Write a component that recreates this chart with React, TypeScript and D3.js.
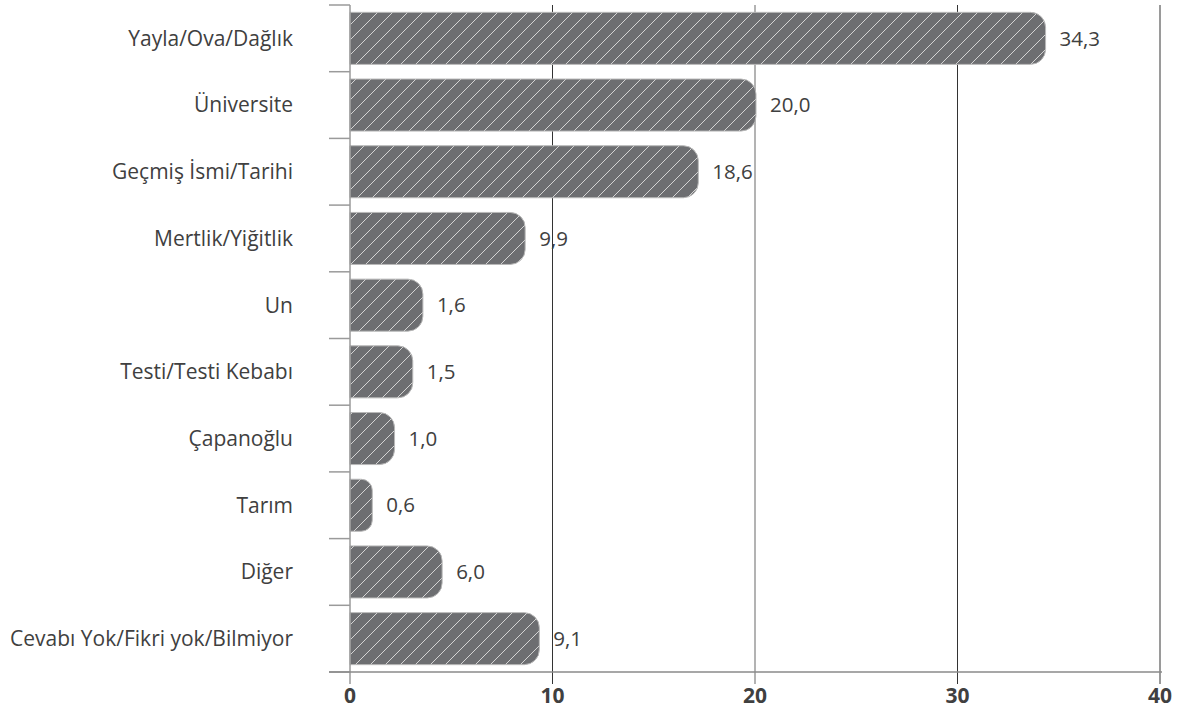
import React from 'react';
import * as d3 from 'd3';

// categories, top to bottom
const categories = [
  'Yayla/Ova/Dağlık',
  'Üniversite',
  'Geçmiş İsmi/Tarihi',
  'Mertlik/Yiğitlik',
  'Un',
  'Testi/Testi Kebabı',
  'Çapanoğlu',
  'Tarım',
  'Diğer',
  'Cevabı Yok/Fikri yok/Bilmiyor',
];

// printed values
const values = [34.3, 20.0, 18.6, 9.9, 1.6, 1.5, 1.0, 0.6, 6.0, 9.1];

// bar lengths as drawn in the picture (they don't always follow the printed value)
const barLengths = [34.35, 20.05, 17.2, 8.65, 3.6, 3.1, 2.2, 1.1, 4.55, 9.35];

const xTicks = [0, 10, 20, 30, 40];

const W = 1183;
const H = 709;
const margin = { top: 5, right: 23, bottom: 37, left: 350 };

const fmt = (v: number) => v.toFixed(1).replace('.', ',');

const App: React.FC = () => {
  const x = d3.scaleLinear().domain([0, 40]).range([margin.left, W - margin.right]);
  const y = d3
    .scaleBand<string>()
    .domain(categories)
    .range([margin.top, H - margin.bottom])
    .paddingInner(0.22)
    .paddingOuter(0.11);

  const step = y.step();
  const axisY = H - margin.bottom;
  const r = 15;

  // bar shape: square on the left, rounded on the right
  const barPath = (len: number, y0: number, h: number) => {
    const x0 = x(0);
    const x1 = x(len);
    const rr = Math.min(r, (x1 - x0) / 2, h / 2);
    const p = d3.path();
    p.moveTo(x0, y0);
    p.lineTo(x1 - rr, y0);
    p.arcTo(x1, y0, x1, y0 + rr, rr);
    p.lineTo(x1, y0 + h - rr);
    p.arcTo(x1, y0 + h, x1 - rr, y0 + h, rr);
    p.lineTo(x0, y0 + h);
    p.closePath();
    return p.toString();
  };

  const font = "'Open Sans', 'DejaVu Sans', sans-serif";

  return (
    <svg
      width={W}
      height={H}
      style={{ position: 'absolute', left: 0, top: 0, background: '#fff' }}
      fontFamily={font}
    >
      <defs>
        <pattern id="hatch" patternUnits="userSpaceOnUse" width={15} height={15}>
          <rect width={15} height={15} fill="#6d6e71" />
          <path
            d="M0,15 L15,0 M-3.75,3.75 L3.75,-3.75 M11.25,18.75 L18.75,11.25"
            stroke="#d4d4d4"
            strokeWidth={1}
          />
        </pattern>
      </defs>

      {/* gridlines */}
      {xTicks.slice(1).map((t) => {
        const gray = t === 20 || t === 40;
        return (
          <line
            key={t}
            x1={x(t)}
            x2={x(t)}
            y1={margin.top}
            y2={axisY + 12}
            stroke={gray ? '#9a9a9a' : '#333'}
            strokeWidth={t === 40 ? 2 : gray ? 1.5 : 1}
          />
        );
      })}

      {/* bars */}
      {categories.map((c, i) => (
        <path
          key={c}
          d={barPath(barLengths[i], y(c)!, y.bandwidth())}
          fill="url(#hatch)"
          stroke="#b8b8b8"
          strokeWidth={1}
        />
      ))}

      {/* value labels */}
      {categories.map((c, i) => (
        <text
          key={c}
          x={x(barLengths[i]) + 14}
          y={y(c)! + y.bandwidth() / 2}
          dy="0.35em"
          fontSize={20.5}
          fill="#404040"
        >
          {fmt(values[i])}
        </text>
      ))}

      {/* left axis line and ticks */}
      <line x1={x(0)} x2={x(0)} y1={margin.top} y2={axisY + 12} stroke="#9a9a9a" strokeWidth={1.5} />
      {d3.range(categories.length + 1).map((k) => (
        <line
          key={k}
          x1={x(0) - 21}
          x2={x(0)}
          y1={margin.top + k * step}
          y2={margin.top + k * step}
          stroke="#9a9a9a"
          strokeWidth={1.5}
        />
      ))}

      {/* bottom axis */}
      <line x1={x(0) - 21} x2={x(40) + 2} y1={axisY} y2={axisY} stroke="#8a8a8a" strokeWidth={1.5} />

      {/* category labels */}
      {categories.map((c) => (
        <text
          key={c}
          x={293}
          y={y(c)! + y.bandwidth() / 2}
          dy="0.35em"
          textAnchor="end"
          fontSize={21}
          fill="#404040"
        >
          {c}
        </text>
      ))}

      {/* x tick labels */}
      {xTicks.map((t) => (
        <text
          key={t}
          x={x(t)}
          y={axisY + 24}
          dy="0.35em"
          textAnchor="middle"
          fontSize={21}
          fontWeight={700}
          fill="#404040"
        >
          {t}
        </text>
      ))}
    </svg>
  );
};

export default App;
